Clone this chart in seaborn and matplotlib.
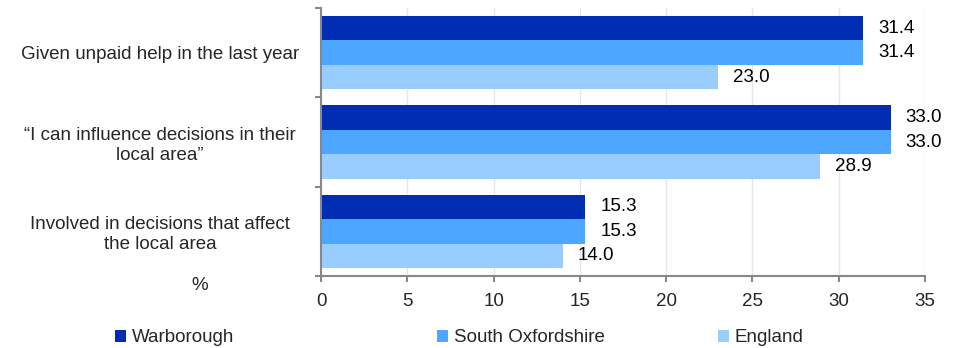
import pandas as pd
import matplotlib
matplotlib.use('Agg')
import matplotlib.pyplot as plt
import seaborn as sns
from matplotlib.patches import Patch

# data
categories = ['Given unpaid help in the last year',
              '\u201cI can influence decisions in their\nlocal area\u201d',
              'Involved in decisions that affect\nthe local area']
areas = ['Warborough', 'South Oxfordshire', 'England']
warborough = [31.4, 33.0, 15.3]
south_oxon = [31.4, 33.0, 15.3]
england = [23.0, 28.9, 14.0]
colors = ['#002DB3', '#4DA6FF', '#99CCFF']

df = pd.DataFrame({
    'category': categories * 3,
    'area': [a for a in areas for _ in categories],
    'value': warborough + south_oxon + england,
})

fs = 13.5
sns.set_style('white')
plt.rcParams['font.family'] = ['Liberation Sans', 'DejaVu Sans']
plt.rcParams['font.size'] = fs

fig = plt.figure(figsize=(9.56, 3.48), dpi=100)
ax = fig.add_axes([0.3358, 0.2069, 0.6318, 0.770])

sns.barplot(data=df, y='category', x='value', hue='area', order=categories,
            hue_order=areas, palette=colors, orient='h', width=0.82,
            saturation=1, legend=False, linewidth=0, ax=ax)

for cont in ax.containers:
    ax.bar_label(cont, fmt='%.1f', padding=11, fontsize=fs, color='#000000')

ax.set_xlim(0, 35)
ax.set_ylim(2.5, -0.5)
ax.set_xticks(range(0, 36, 5))
ax.set_yticks([-0.5, 0.5, 1.5, 2.5])
ax.set_yticklabels([])
ax.set_yticks([0, 1, 2], minor=True)
ax.set_yticklabels(categories, minor=True)
for lab in ax.get_yticklabels(minor=True):
    lab.set_ha('center')
    lab.set_multialignment('center')
ax.tick_params(axis='y', which='minor', length=0, pad=116, labelsize=fs)
ax.tick_params(axis='y', which='major', length=4.5, color='#888888', width=1.5, left=True)
ax.tick_params(axis='x', length=4, color='#888888', width=1.5, bottom=True, labelsize=fs, pad=8)
ax.set_xlabel('')
ax.set_ylabel('')

ax.grid(axis='x', color='#E6E6E6', linewidth=1)
ax.set_axisbelow(True)
for s in ['top', 'right']:
    ax.spines[s].set_visible(False)
for s in ['left', 'bottom']:
    ax.spines[s].set_color('#888888')
    ax.spines[s].set_linewidth(1.5)

fig.text(200 / 956, 1 - 285 / 348, '%', ha='center', va='center', fontsize=fs)

# legend entries spread like the reference
leg_x = [98, 420, 701]
for name, col, x in zip(areas, colors, leg_x):
    fig.legend(handles=[Patch(facecolor=col, edgecolor='none', label=name)],
               loc='center left', bbox_to_anchor=(x / 956, 1 - 338 / 348),
               frameon=False, fontsize=fs, handlelength=0.6, handleheight=0.6,
               handletextpad=0.3)

fig.savefig('out.png', dpi=100)
